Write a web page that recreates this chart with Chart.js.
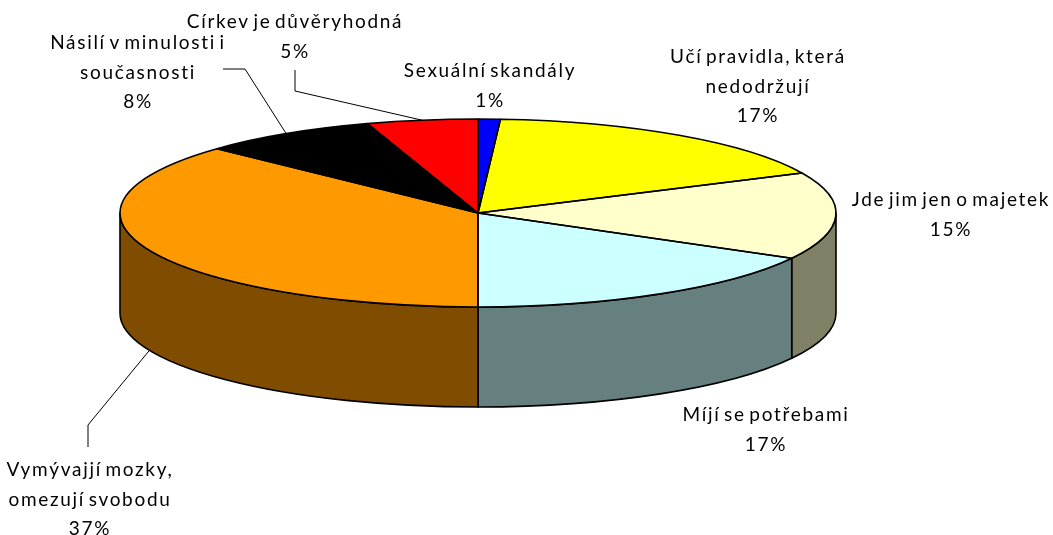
<!DOCTYPE html>
<html>
<head>
<meta charset="utf-8">
<script src="https://cdn.jsdelivr.net/npm/chart.js@4/dist/chart.umd.min.js"></script>
<style>
  body { margin: 0; background: #fff; }
  canvas { display: block; }
</style>
</head>
<body>
<canvas id="myChart" width="1053" height="535"></canvas>
<script>
const categories = ["Sexuální skandály", "Učí pravidla, která nedodržují", "Jde jim jen o majetek", "Míjí se potřebami", "Vymývajjí mozky, omezují svobodu", "Násilí v minulosti i současnosti", "Církev je důvěryhodná"]
const values = [1, 17, 15, 17, 37, 8, 5]
const colors = ["#0000FF", "#FFFF00", "#FFFFCC", "#CCFFFF", "#FF9900", "#000000", "#FF0000"]
const labelLines = [
    ["Sexuální skandály"],
    ["Učí pravidla, která", "nedodržují"],
    ["Jde jim jen o majetek"],
    ["Míjí se potřebami"],
    ["Vymývajjí mozky,", "omezují svobodu"],
    ["Násilí v minulosti i", "současnosti"],
    ["Církev je důvěryhodná"]
]

// layout of the tilted pie (ellipse centre, radii, thickness)
const CX = 478, CY = 213, RX = 358, RY = 94, DEPTH = 100
// where each label's first line sits, and the elbows of the leader lines
const labelPos = [[489, 71], [757, 57], [950, 200], [765, 415], [89, 470], [137, 43], [294, 22]]
const leaders = { 4: [[88, 425], [88, 447]], 5: [[245, 69], [223, 69]], 6: [[295, 91], [295, 70]] }
const LINE_H = 29.5

const ctx = document.querySelector("#myChart")

function darker(hex) {
    const n = parseInt(hex.slice(1), 16)
    const r = Math.round(((n >> 16) & 255) / 2)
    const g = Math.round(((n >> 8) & 255) / 2)
    const b = Math.round((n & 255) / 2)
    return `rgb(${r},${g},${b})`
}

const pie3d = {
    id: "pie3d",
    beforeDatasetsDraw(chart) {
        const c = chart.ctx
        const arcs = chart.getDatasetMeta(0).data

        // visible side wall (front half: angles 0..PI)
        arcs.forEach((arc, i) => {
            const a0 = Math.max(arc.startAngle, 0)
            const a1 = Math.min(arc.endAngle, Math.PI)
            if (a0 >= a1) return
            c.beginPath()
            c.ellipse(CX, CY, RX, RY, 0, a0, a1)
            c.ellipse(CX, CY + DEPTH, RX, RY, 0, a1, a0, true)
            c.closePath()
            c.fillStyle = darker(colors[i])
            c.fill()
            c.lineWidth = 1.6
            c.strokeStyle = "#000"
            c.lineJoin = "round"
            c.stroke()
        })

        // squash the library's round pie into the ellipse
        const a = arcs[0]
        c.save()
        c.translate(CX, CY)
        c.scale(RX / a.outerRadius, RY / a.outerRadius)
        c.translate(-a.x, -a.y)
    },
    afterDatasetsDraw(chart) {
        const c = chart.ctx
        c.restore()
        const arcs = chart.getDatasetMeta(0).data
        const total = values.reduce((s, v) => s + v, 0)

        // outlines of the top
        c.lineWidth = 1.6
        c.strokeStyle = "#000"
        c.lineJoin = "round"
        arcs.forEach((arc) => {
            c.beginPath()
            c.moveTo(CX, CY)
            c.ellipse(CX, CY, RX, RY, 0, arc.startAngle, arc.endAngle)
            c.closePath()
            c.stroke()
        })

        // leader lines
        c.lineWidth = 1
        arcs.forEach((arc, i) => {
            if (!leaders[i]) return
            const mid = (arc.startAngle + arc.endAngle) / 2
            let y0 = CY + RY * Math.sin(mid)
            if (Math.sin(mid) > 0) y0 += DEPTH
            c.beginPath()
            c.moveTo(CX + RX * Math.cos(mid), y0)
            leaders[i].forEach((p) => c.lineTo(p[0], p[1]))
            c.stroke()
        })

        // labels
        c.fillStyle = "#000"
        c.font = "19px Lato"
        c.letterSpacing = "1.7px"
        c.wordSpacing = "-3px"
        c.textAlign = "center"
        c.textBaseline = "middle"
        labelLines.forEach((lines, i) => {
            const pct = Math.round(values[i] / total * 100) + "%"
            const all = lines.concat([pct])
            all.forEach((t, k) => {
                // letterSpacing adds a trailing gap, shift back by half of it
                c.fillText(t, labelPos[i][0] + 1, labelPos[i][1] + k * LINE_H)
            })
        })
    }
}

new Chart(ctx, {
    type: "pie",
    data: {
        labels: categories,
        datasets: [{
            data: values,
            backgroundColor: colors,
            borderWidth: 0,
            hoverOffset: 0
        }]
    },
    options: {
        responsive: false,
        animation: false,
        events: [],
        layout: { padding: { top: 10, bottom: 120, left: 280, right: 380 } },
        plugins: {
            legend: { display: false },
            tooltip: { enabled: false }
        }
    },
    plugins: [pie3d]
})
</script>
</body>
</html>
